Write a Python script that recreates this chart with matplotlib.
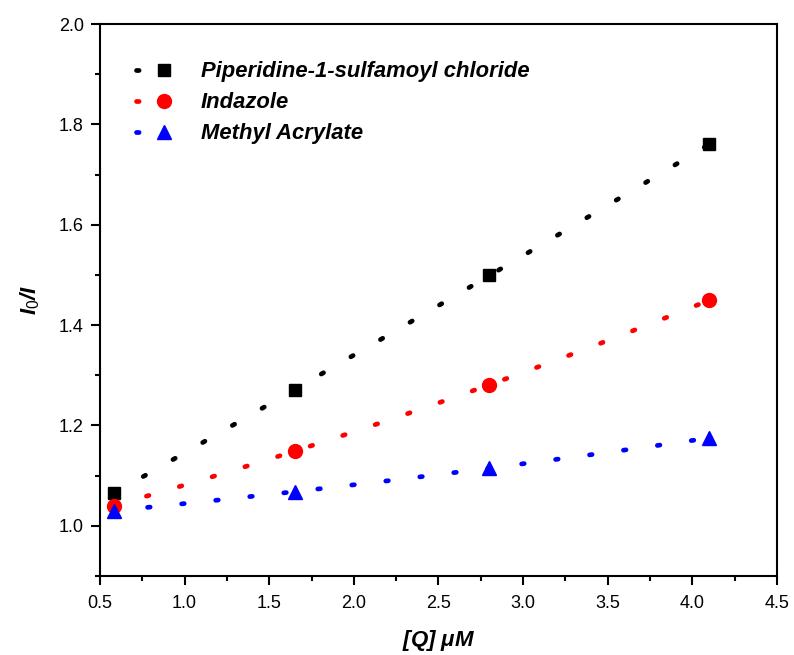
import numpy as np
import matplotlib
matplotlib.use('Agg')
import matplotlib.pyplot as plt
from matplotlib.legend_handler import HandlerTuple
from matplotlib.ticker import MultipleLocator

plt.rcParams['font.family'] = ['Liberation Sans', 'DejaVu Sans']
plt.rcParams['mathtext.fontset'] = 'custom'
plt.rcParams['mathtext.it'] = 'Liberation Sans:italic:bold'
plt.rcParams['mathtext.rm'] = 'Liberation Sans'

# 數據
conc = [0.58, 1.65, 2.8, 4.1]
names = ['Piperidine-1-sulfamoyl chloride', 'Indazole', 'Methyl Acrylate']
piperidine = [1.065, 1.27, 1.50, 1.76]
indazole = [1.04, 1.15, 1.28, 1.45]
methyl_acrylate = [1.03, 1.068, 1.115, 1.175]

series = [piperidine, indazole, methyl_acrylate]
colors = ['black', 'red', 'blue']
markers = ['s', 'o', '^']
msizes = [9, 10, 10]

fig = plt.figure(figsize=(7.94, 6.55), dpi=100)
ax = fig.add_axes([0.1259, 0.1206, 0.8527, 0.8427])

handles = []
xfit = np.linspace(conc[0], conc[-1], 200)
for vals, c, m, ms in zip(series, colors, markers, msizes):
    # 擬合曲線 (二次)
    p = np.polyfit(conc, vals, 2)
    ln, = ax.plot(xfit, np.polyval(p, xfit), color=c, lw=3.4,
                  linestyle=(0, (0.55, 6.7)), dash_capstyle='round')
    pt, = ax.plot(conc, vals, linestyle='none', marker=m, color=c,
                  markersize=ms, zorder=5)
    handles.append((ln, pt))

ax.set_xlim(0.5, 4.5)
ax.set_ylim(0.9, 2.0)
ax.xaxis.set_major_locator(MultipleLocator(0.5))
ax.xaxis.set_minor_locator(MultipleLocator(0.25))
ax.yaxis.set_major_locator(MultipleLocator(0.2))
ax.yaxis.set_minor_locator(MultipleLocator(0.1))
ax.set_yticks([1.0, 1.2, 1.4, 1.6, 1.8, 2.0])
ax.tick_params(which='major', direction='out', length=6.5, width=1.5,
               labelsize=13, top=False, right=False)
ax.tick_params(axis='x', which='major', pad=7)
ax.tick_params(axis='y', which='major', pad=5)
ax.tick_params(which='minor', direction='out', length=3.8, width=1.5,
               top=False, right=False)
for s in ax.spines.values():
    s.set_linewidth(1.5)

ax.set_xlabel(r'[Q] $\mu$M', fontsize=16, fontweight='bold', style='italic', labelpad=12)
ax.set_ylabel(r'$I_0$/$I$', fontsize=16, fontweight='bold', style='italic', labelpad=12)

leg = ax.legend(handles, names, handler_map={tuple: HandlerTuple(ndivide=None, pad=0.0)},
                loc='upper left', bbox_to_anchor=(0.024, 0.968), frameon=False,
                prop={'size': 15.8, 'weight': 'bold', 'style': 'italic'},
                handlelength=1.7, handletextpad=1.25, labelspacing=0.45)

fig.savefig('out.png', dpi=100)
